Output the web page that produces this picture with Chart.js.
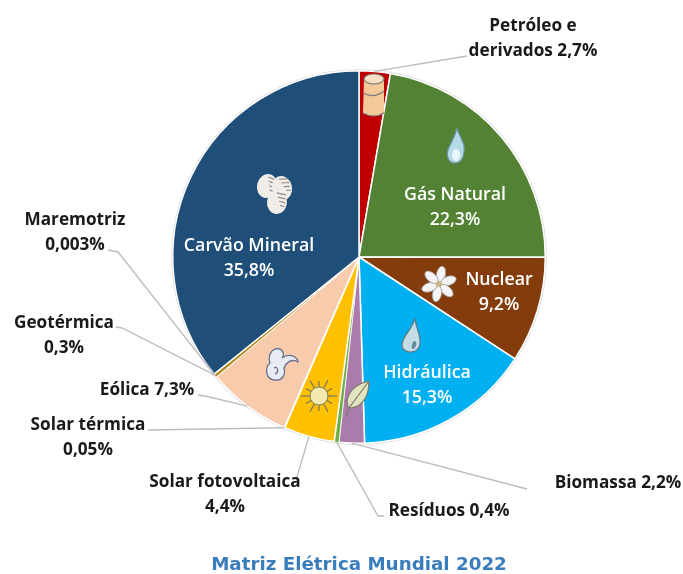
<!DOCTYPE html>
<html>
<head>
<meta charset="utf-8">
<title>Matriz Elétrica Mundial 2022</title>
<script src="https://cdn.jsdelivr.net/npm/chart.js@4/dist/chart.umd.min.js"></script>
<style>
  html, body { margin: 0; padding: 0; background: #fff; }
  #wrap { width: 683px; height: 574px; }
</style>
</head>
<body>
<div id="wrap"><canvas id="chart"></canvas></div>
<script>
const titleText = "Matriz Elétrica Mundial 2022";
const categories = ["Petróleo e derivados", "Gás Natural", "Nuclear", "Hidráulica", "Biomassa", "Resíduos",
  "Solar fotovoltaica", "Solar térmica", "Eólica", "Geotérmica", "Maremotriz", "Carvão Mineral"];
const shares = [2.7, 22.3, 9.2, 15.3, 2.2, 0.4, 4.4, 0.05, 7.3, 0.3, 0.003, 35.8];
const colors = ["#c00000", "#548235", "#843c0c", "#00b0f0", "#ab7bab", "#70ad47",
  "#ffc000", "#f2f2f2", "#f8cbad", "#b08a1e", "#7f7f7f", "#1f4e79"];

// where each label sits: centre of its text block, how many words go on line one, and the leader elbow
const labelLayout = [
  { x: 533, y: 38.5, words: 2, tip: [467, 56] },
  { x: 455, y: 207, words: 2, inside: true },
  { x: 499, y: 292, words: 1, inside: true },
  { x: 427, y: 385, words: 1, inside: true },
  { x: 618, y: 483, words: 9, tip: [527, 489] },
  { x: 449, y: 511, words: 9, tip: [384, 516], elbow: [378, 516] },
  { x: 225, y: 494.5, words: 2, tip: [296, 480] },
  { x: 88, y: 437.5, words: 2, tip: [148, 430] },
  { x: 147, y: 390, words: 9, tip: [198, 395], elbow: [205, 396] },
  { x: 64, y: 335.5, words: 1, tip: [116, 327], elbow: [122, 328] },
  { x: 75, y: 232.5, words: 1, tip: [108, 250], elbow: [118, 252] },
  { x: 249, y: 258, words: 2, inside: true }
];

const outerFont = "700 17.2px 'Open Sans', 'Noto Sans', sans-serif";
const innerFont = "600 17.8px 'Open Sans', 'Noto Sans', sans-serif";
const lineHeight = 25;

function formatShare(v) {
  return String(v).replace(".", ",") + "%";
}

function labelLines(i) {
  const words = (categories[i] + " " + formatShare(shares[i])).split(" ");
  const n = labelLayout[i].words;
  if (n >= words.length) return [words.join(" ")];
  return [words.slice(0, n).join(" "), words.slice(n).join(" ")];
}

// the pie's soft grey rim
const rimPlugin = {
  id: "rim",
  beforeDatasetsDraw(chart) {
    const arc = chart.getDatasetMeta(0).data[0];
    const { ctx } = chart;
    ctx.save();
    ctx.beginPath();
    ctx.arc(arc.x, arc.y, arc.outerRadius + 1.5, 0, Math.PI * 2);
    ctx.fillStyle = "#dedede";
    ctx.fill();
    ctx.restore();
  }
};

const leaderPlugin = {
  id: "leaders",
  afterDatasetsDraw(chart) {
    const { ctx } = chart;
    const arcs = chart.getDatasetMeta(0).data;
    ctx.save();
    ctx.strokeStyle = "#bdbdbd";
    ctx.lineWidth = 1.4;
    labelLayout.forEach((l, i) => {
      if (!l.tip) return;
      const a = arcs[i];
      const mid = (a.startAngle + a.endAngle) / 2;
      ctx.beginPath();
      ctx.moveTo(l.tip[0], l.tip[1]);
      if (l.elbow) ctx.lineTo(l.elbow[0], l.elbow[1]);
      ctx.lineTo(a.x + Math.cos(mid) * a.outerRadius, a.y + Math.sin(mid) * a.outerRadius);
      ctx.stroke();
    });
    ctx.restore();
  }
};

// little pictographs inside the slices
function drawBarrel(ctx) {
  ctx.fillStyle = "#f4c99a"; ctx.strokeStyle = "#7a7a7a"; ctx.lineWidth = 1.2;
  ctx.beginPath();
  ctx.moveTo(-10, -15); ctx.lineTo(-11, 19);
  ctx.quadraticCurveTo(0, 25, 10, 19); ctx.lineTo(10, -15);
  ctx.quadraticCurveTo(0, -22, -10, -15);
  ctx.fill();
  ctx.beginPath(); ctx.ellipse(0, -15, 10, 5, 0, 0, Math.PI * 2); ctx.fillStyle = "#f8e0c2"; ctx.fill(); ctx.stroke();
  ctx.beginPath(); ctx.moveTo(-11, -1); ctx.quadraticCurveTo(0, 5, 10, -3); ctx.stroke();
  ctx.beginPath(); ctx.moveTo(-11, 19); ctx.quadraticCurveTo(0, 25, 10, 19); ctx.stroke();
}
function drawFlame(ctx) {
  ctx.fillStyle = "#b5dbe6"; ctx.strokeStyle = "#6f93a6"; ctx.lineWidth = 1.2;
  ctx.beginPath();
  ctx.moveTo(1, -18);
  ctx.bezierCurveTo(3, -8, 10, -4, 8, 6);
  ctx.bezierCurveTo(7, 14, 3, 17, -1, 17);
  ctx.bezierCurveTo(-7, 17, -10, 11, -8, 4);
  ctx.bezierCurveTo(-6, -2, -2, -6, 1, -18);
  ctx.fill(); ctx.stroke();
  ctx.beginPath(); ctx.fillStyle = "#eaf6f9";
  ctx.ellipse(0, 9, 4, 6, 0, 0, Math.PI * 2); ctx.fill();
}
function drawAtom(ctx) {
  ctx.fillStyle = "#f4f4f4"; ctx.strokeStyle = "#9a9a9a"; ctx.lineWidth = 0.8;
  for (let k = 0; k < 6; k++) {
    ctx.save();
    ctx.rotate(k * Math.PI / 3 + 0.2);
    ctx.beginPath();
    ctx.ellipse(0, -10, 4.5, 8, 0, 0, Math.PI * 2);
    ctx.fill(); ctx.stroke();
    ctx.restore();
  }
  ctx.beginPath(); ctx.arc(0, 0, 3, 0, Math.PI * 2); ctx.fillStyle = "#c9b98a"; ctx.fill();
}
function drawDrop(ctx) {
  ctx.fillStyle = "#c3dde4"; ctx.strokeStyle = "#5b7684"; ctx.lineWidth = 1.2;
  ctx.beginPath();
  ctx.moveTo(4, -19);
  ctx.bezierCurveTo(2, -8, -10, 0, -9, 9);
  ctx.bezierCurveTo(-8, 17, 7, 18, 9, 7);
  ctx.bezierCurveTo(10, -2, 5, -8, 4, -19);
  ctx.fill(); ctx.stroke();
  ctx.beginPath(); ctx.fillStyle = "#5f8a9c";
  ctx.ellipse(3, 8, 2, 4, 0.3, 0, Math.PI * 2); ctx.fill();
}
function drawLeaf(ctx) {
  ctx.fillStyle = "#e2e4bf"; ctx.strokeStyle = "#77776a"; ctx.lineWidth = 1.1;
  ctx.beginPath();
  ctx.moveTo(12, -17);
  ctx.bezierCurveTo(-8, -12, -13, 2, -8, 10);
  ctx.bezierCurveTo(4, 10, 12, 0, 12, -17);
  ctx.fill(); ctx.stroke();
  ctx.beginPath(); ctx.moveTo(12, -17); ctx.lineTo(-8, 10); ctx.lineTo(-11, 19); ctx.stroke();
}
function drawSun(ctx) {
  ctx.strokeStyle = "#7f7a5f"; ctx.lineWidth = 1.3;
  for (let k = 0; k < 12; k++) {
    const t = k * Math.PI / 6;
    const r = k % 2 ? 15 : 18;
    ctx.beginPath();
    ctx.moveTo(Math.cos(t) * 9, Math.sin(t) * 9);
    ctx.lineTo(Math.cos(t) * r, Math.sin(t) * r);
    ctx.stroke();
  }
  ctx.beginPath(); ctx.arc(0, 0, 9, 0, Math.PI * 2);
  ctx.fillStyle = "#f4eab0"; ctx.fill(); ctx.lineWidth = 1; ctx.stroke();
}
function drawWind(ctx) {
  ctx.fillStyle = "#e6ebf4"; ctx.strokeStyle = "#68708c"; ctx.lineWidth = 1.3;
  ctx.beginPath();
  ctx.moveTo(-6, -16);
  ctx.bezierCurveTo(2, -18, 4, -10, 1, -7);
  ctx.bezierCurveTo(8, -12, 16, -9, 17, -3);
  ctx.bezierCurveTo(10, -7, 5, -2, 3, 3);
  ctx.bezierCurveTo(5, 10, 1, 16, -6, 15);
  ctx.bezierCurveTo(-15, 15, -17, 3, -11, -2);
  ctx.bezierCurveTo(-13, -8, -11, -14, -6, -16);
  ctx.fill(); ctx.stroke();
  ctx.beginPath(); ctx.moveTo(-7, 3); ctx.bezierCurveTo(-3, 0, -2, 8, -6, 9); ctx.stroke();
}
function drawCoal(ctx) {
  // three white lumps with grey streaks
  [[-7, -7, 0.25], [8, -5, -0.2], [3, 9, 0.1]].forEach(([x, y, rot]) => {
    ctx.save();
    ctx.translate(x, y);
    ctx.rotate(rot);
    ctx.fillStyle = "#f1eeea";
    ctx.beginPath();
    ctx.ellipse(0, 0, 10, 12, 0, 0, Math.PI * 2);
    ctx.fill();
    ctx.strokeStyle = "#8e8a88";
    ctx.lineWidth = 1.2;
    for (let k = 0; k < 4; k++) {
      ctx.beginPath();
      ctx.moveTo(-1 + k * 1.5, -9 + k * 4);
      ctx.lineTo(8, -8 + k * 4);
      ctx.stroke();
    }
    ctx.restore();
  });
}

const icons = [
  [drawBarrel, 374, 94], [drawFlame, 456, 146], [drawAtom, 439, 284], [drawDrop, 411, 337],
  [drawLeaf, 357, 398], [drawSun, 319, 396], [drawWind, 281, 365], [drawCoal, 274, 193]
];

const iconPlugin = {
  id: "icons",
  afterDatasetsDraw(chart) {
    const { ctx } = chart;
    icons.forEach(([draw, x, y]) => {
      ctx.save();
      ctx.translate(x, y);
      draw(ctx);
      ctx.restore();
    });
  }
};

const labelPlugin = {
  id: "sliceLabels",
  afterDraw(chart) {
    const { ctx } = chart;
    ctx.save();
    ctx.textAlign = "center";
    ctx.textBaseline = "middle";
    labelLayout.forEach((l, i) => {
      const lines = labelLines(i);
      ctx.font = l.inside ? innerFont : outerFont;
      ctx.fillStyle = l.inside ? "#ffffff" : "#1a1a1a";
      lines.forEach((text, k) => {
        ctx.fillText(text, l.x, l.y + (k - (lines.length - 1) / 2) * lineHeight);
      });
    });
    ctx.restore();
  }
};

new Chart(document.getElementById("chart"), {
  type: "pie",
  data: {
    labels: categories,
    datasets: [{
      data: shares,
      backgroundColor: colors,
      borderColor: "#ffffff",
      borderWidth: (c) => (shares[c.dataIndex] < 1 ? 0.5 : 1.5)
    }]
  },
  options: {
    responsive: true,
    maintainAspectRatio: false,
    animation: false,
    layout: { padding: { top: 70, left: 172, right: 137, bottom: 0 } },
    plugins: {
      legend: { display: false },
      tooltip: { enabled: false },
      title: {
        display: true,
        text: titleText,
        position: "bottom",
        color: "#3a7dbd",
        font: { family: "'DejaVu Sans', sans-serif", size: 18.3, weight: "bold", lineHeight: 1 },
        padding: { top: 111.7, bottom: 0 }
      }
    }
  },
  plugins: [rimPlugin, leaderPlugin, iconPlugin, labelPlugin]
});
</script>
</body>
</html>
